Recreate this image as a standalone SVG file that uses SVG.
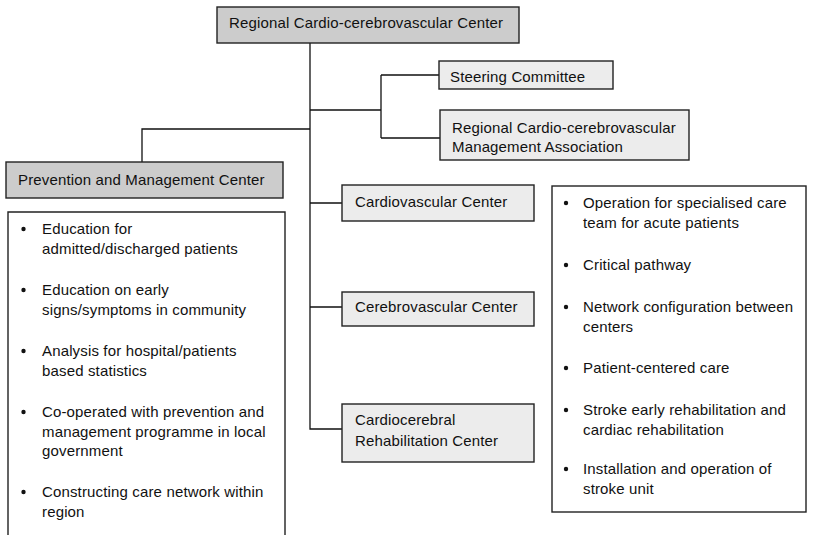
<svg xmlns="http://www.w3.org/2000/svg" width="817" height="535" viewBox="0 0 817 535">
<style>
text{font-family:"Liberation Sans",Arial,sans-serif;font-size:15px;fill:#111;letter-spacing:0.15px}
.dark{fill:#cccccc;stroke:#222;stroke-width:1.4}
.light{fill:#ececec;stroke:#222;stroke-width:1.4}
.list{fill:#fff;stroke:#222;stroke-width:1.4}
.conn{fill:none;stroke:#111;stroke-width:1.3}
.dot{fill:#111}
</style>
<rect width="817" height="535" fill="#fff"/>
<g id="connectors">
<path class="conn" d="M310,43 V429 H342"/>
<path class="conn" d="M310,110 H381 M381,75 V138 M381,75 H439 M381,138 H440"/>
<path class="conn" d="M310,129 H142 V162"/>
<path class="conn" d="M310,203 H342 M310,307 H342"/>
</g>
<g id="regional-center">
<rect class="dark" x="217" y="7" width="302" height="36"/>
<text x="229" y="28">Regional Cardio-cerebrovascular Center</text>
</g>
<g id="steering-committee">
<rect class="light" x="439" y="61" width="174" height="28"/>
<text x="450" y="82">Steering Committee</text>
</g>
<g id="management-association">
<rect class="light" x="440" y="110" width="249" height="50"/>
<text x="452" y="133">Regional Cardio-cerebrovascular</text>
<text x="452" y="152">Management Association</text>
</g>
<g id="prevention-center">
<rect class="dark" x="6" y="162" width="277" height="36"/>
<text x="18" y="185">Prevention and Management Center</text>
</g>
<g id="prevention-list">
<path class="list" d="M8,540 V212 H285 V540"/>
<circle class="dot" cx="23.5" cy="229" r="2.2"/>
<circle class="dot" cx="23.5" cy="290" r="2.2"/>
<circle class="dot" cx="23.5" cy="351" r="2.2"/>
<circle class="dot" cx="23.5" cy="412" r="2.2"/>
<circle class="dot" cx="23.5" cy="492" r="2.2"/>
<text><tspan x="42" y="234">Education for</tspan><tspan x="42" y="253.5">admitted/discharged patients</tspan></text>
<text><tspan x="42" y="295">Education on early</tspan><tspan x="42" y="314.5">signs/symptoms in community</tspan></text>
<text><tspan x="42" y="356">Analysis for hospital/patients</tspan><tspan x="42" y="375.5">based statistics</tspan></text>
<text><tspan x="42" y="417">Co-operated with prevention and</tspan><tspan x="42" y="436.5">management programme in local</tspan><tspan x="42" y="456">government</tspan></text>
<text><tspan x="42" y="497">Constructing care network within</tspan><tspan x="42" y="516.5">region</tspan></text>
</g>
<g id="cardiovascular-center">
<rect class="light" x="342" y="185" width="192" height="36"/>
<text x="355" y="207">Cardiovascular Center</text>
</g>
<g id="cerebrovascular-center">
<rect class="light" x="342" y="292" width="192" height="34"/>
<text x="355" y="312">Cerebrovascular Center</text>
</g>
<g id="rehabilitation-center">
<rect class="light" x="342" y="404" width="192" height="58"/>
<text x="355" y="425">Cardiocerebral</text>
<text x="355" y="446">Rehabilitation Center</text>
</g>
<g id="center-list">
<rect class="list" x="552" y="186" width="254" height="326"/>
<circle class="dot" cx="566" cy="203" r="2.2"/>
<circle class="dot" cx="566" cy="265" r="2.2"/>
<circle class="dot" cx="566" cy="307" r="2.2"/>
<circle class="dot" cx="566" cy="368" r="2.2"/>
<circle class="dot" cx="566" cy="410" r="2.2"/>
<circle class="dot" cx="566" cy="469" r="2.2"/>
<text><tspan x="583" y="208">Operation for specialised care</tspan><tspan x="583" y="227.5">team for acute patients</tspan></text>
<text><tspan x="583" y="270">Critical pathway</tspan></text>
<text><tspan x="583" y="312">Network configuration between</tspan><tspan x="583" y="331.5">centers</tspan></text>
<text><tspan x="583" y="373">Patient-centered care</tspan></text>
<text><tspan x="583" y="415">Stroke early rehabilitation and</tspan><tspan x="583" y="434.5">cardiac rehabilitation</tspan></text>
<text><tspan x="583" y="474">Installation and operation of</tspan><tspan x="583" y="493.5">stroke unit</tspan></text>
</g>
</svg>
